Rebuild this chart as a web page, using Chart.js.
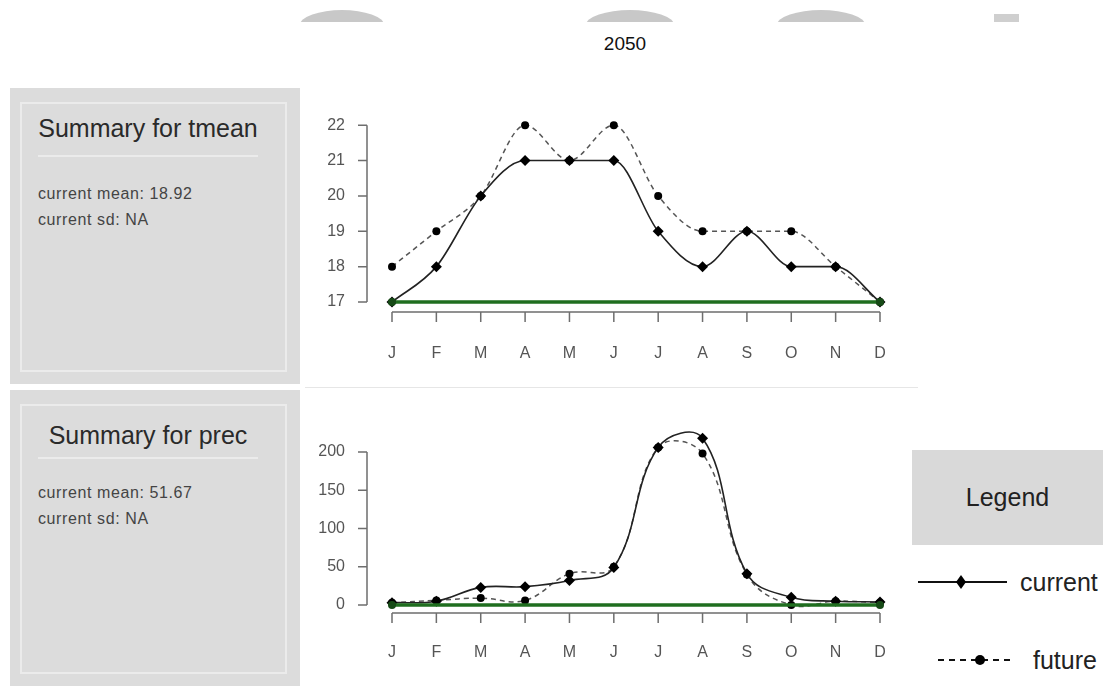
<!DOCTYPE html>
<html>
<head>
<meta charset="utf-8">
<script src="https://cdn.jsdelivr.net/npm/chart.js@4.4.1/dist/chart.umd.min.js"></script>
<style>
  body { margin: 0; background: #fff; font-family: "Liberation Sans", Arial, sans-serif; }
  #page { position: relative; width: 1110px; height: 686px; overflow: hidden; }
  .clip { position: absolute; top: 0; height: 22px; overflow: hidden; }
  .dome { position: absolute; top: 10px; left: 0; height: 30px; background: #c8c8c8; border-radius: 50%; }
  .year { position: absolute; left: 585px; width: 80px; top: 33px; text-align: center; font-size: 19px; color: #111; }
  .panel { position: absolute; left: 10px; width: 290px; background: #dcdcdc; }
  .inner { position: absolute; left: 10px; right: 13px; top: 14px; bottom: 12px; border: 2px solid #ebebeb; }
  .ptitle { position: absolute; left: 28px; width: 220px; text-align: center; font-size: 25px; color: #2a2a2a; }
  .uline { position: absolute; left: 28px; width: 220px; height: 2px; background: #ebebeb; }
  .ptext { position: absolute; left: 28px; font-size: 16px; letter-spacing: 0.6px; color: #444; line-height: 26px; }
  canvas { position: absolute; }
  .sep { position: absolute; left: 305px; width: 613px; top: 387px; height: 1px; background: #e6e6e6; }
  .lbox { position: absolute; left: 912px; top: 450px; width: 191px; height: 95px; background: #d9d9d9;
          font-size: 25px; color: #222; text-align: center; line-height: 95px; }
  .ltext { position: absolute; font-size: 25px; color: #222; line-height: 30px; }
  svg { position: absolute; }
</style>
</head>
<body>
<div id="page">
  <div class="clip" style="left:300px;width:84px"><div class="dome" style="width:84px"></div></div>
  <div class="clip" style="left:586px;width:88px"><div class="dome" style="width:88px"></div></div>
  <div class="clip" style="left:777px;width:88px"><div class="dome" style="width:88px"></div></div>
  <div style="position:absolute;left:994px;top:14px;width:25px;height:8px;background:#cfcfcf"></div>
  <div class="year">2050</div>

  <div class="panel" style="top:88px;height:296px">
    <div class="inner"></div>
    <div class="ptitle" style="top:26px">Summary for tmean</div>
    <div class="uline" style="top:67px"></div>
    <div class="ptext" style="top:93px">current mean: 18.92<br>current sd: NA</div>
  </div>
  <div class="panel" style="top:390px;height:296px">
    <div class="inner"></div>
    <div class="ptitle" style="top:31px">Summary for prec</div>
    <div class="uline" style="top:67px"></div>
    <div class="ptext" style="top:90px">current mean: 51.67<br>current sd: NA</div>
  </div>

  <canvas id="tmean_chart" width="600" height="285" style="left:305px;top:95px"></canvas>
  <div class="sep"></div>
  <canvas id="prec_chart" width="600" height="285" style="left:305px;top:395px"></canvas>

  <div class="lbox">Legend</div>
  <svg style="left:915px;top:570px" width="95" height="24">
    <line x1="3" y1="12" x2="92" y2="12" stroke="#111" stroke-width="2"/>
    <polygon points="46,5 51,12 46,19 41,12" fill="#000"/>
  </svg>
  <div class="ltext" style="left:1020px;top:567px">current</div>
  <svg style="left:935px;top:648px" width="82" height="24">
    <line x1="3" y1="12" x2="78" y2="12" stroke="#111" stroke-width="2" stroke-dasharray="6,5"/>
    <circle cx="45" cy="12" r="5" fill="#000"/>
  </svg>
  <div class="ltext" style="left:1033px;top:645px">future</div>
</div>

<script>
  var months = ["J", "F", "M", "A", "M", "J", "J", "A", "S", "O", "N", "D"];

  var tmeanTicks = [17, 18, 19, 20, 21, 22];
  var tmeanCurrent = [17, 18, 20, 21, 21, 21, 19, 18, 19, 18, 18, 17];
  var tmeanFuture = [18, 19, 20, 22, 21, 22, 20, 19, 19, 19, 18, 17];
  var tmeanBase = 17;

  var precTicks = [0, 50, 100, 150, 200];
  var precCurrent = [3, 5, 23, 24, 32, 49, 206, 218, 41, 10, 5, 4];
  var precFuture = [3, 6, 9, 6, 41, 50, 206, 198, 40, 0, 5, 3];
  var precBase = 0;

  // R style axes: detached y axis line and x axis line below the plot
  var rAxes = {
      id: 'rAxes',
      beforeDatasetsDraw: function(chart, args, opts) {
          var ctx = chart.ctx, xs = chart.scales.x, ys = chart.scales.y, area = chart.chartArea;
          var ax = area.left - 25, ay = area.bottom + opts.gap;
          var yt = ys.ticks;
          ctx.save();
          ctx.strokeStyle = '#6e6e6e';
          ctx.lineWidth = 1.5;
          ctx.beginPath();
          ctx.moveTo(ax, ys.getPixelForValue(yt[yt.length - 1].value));
          ctx.lineTo(ax, ys.getPixelForValue(yt[0].value));
          yt.forEach(function(t) {
              var p = ys.getPixelForValue(t.value);
              ctx.moveTo(ax, p);
              ctx.lineTo(ax - 9, p);
          });
          ctx.moveTo(xs.getPixelForTick(0), ay);
          ctx.lineTo(xs.getPixelForTick(xs.ticks.length - 1), ay);
          xs.ticks.forEach(function(t, i) {
              var p = xs.getPixelForTick(i);
              ctx.moveTo(p, ay);
              ctx.lineTo(p, ay + 10);
          });
          ctx.stroke();
          ctx.restore();
      }
  };

  function makeChart(id, current, future, base, ticks, opts) {
      return new Chart(document.getElementById(id), {
          type: 'line',
          data: {
              labels: months,
              datasets: [{
                  data: [{x: months[0], y: base}, {x: months[months.length - 1], y: base}],
                  borderColor: '#1f6e1f',
                  borderWidth: 3.5,
                  pointRadius: 4,
                  pointBackgroundColor: '#164a16',
                  pointBorderWidth: 0,
                  clip: false
              }, {
                  data: current,
                  borderColor: '#222',
                  borderWidth: 1.6,
                  pointStyle: 'rectRot',
                  pointRadius: 5.5,
                  pointBackgroundColor: '#000',
                  pointBorderWidth: 0,
                  cubicInterpolationMode: opts.mode,
                  tension: 0.4,
                  capBezierPoints: false,
                  clip: false
              }, {
                  data: future,
                  borderColor: '#555',
                  borderWidth: 1.5,
                  borderDash: [5, 4],
                  pointStyle: 'circle',
                  pointRadius: 4,
                  pointBackgroundColor: '#000',
                  pointBorderWidth: 0,
                  cubicInterpolationMode: opts.mode,
                  tension: 0.4,
                  capBezierPoints: false,
                  clip: false
              }]
          },
          options: {
              responsive: false,
              animation: false,
              layout: { autoPadding: false, padding: { top: opts.top, right: 25, left: 0, bottom: 0 } },
              plugins: {
                  legend: { display: false },
                  tooltip: { enabled: false },
                  rAxes: { gap: opts.gap }
              },
              scales: {
                  x: {
                      offset: false,
                      grid: { display: false, drawTicks: false },
                      border: { display: false },
                      ticks: { padding: opts.xpad, color: '#555', font: { size: 16, family: 'Liberation Sans' } },
                      afterFit: function(s) {
                          s.height = opts.xh;
                          s.paddingLeft = 0; s.paddingRight = 0;
                      }
                  },
                  y: {
                      min: ticks[0],
                      max: opts.ymax,
                      afterBuildTicks: function(s) { s.ticks = ticks.map(function(v) { return {value: v}; }); },
                      grid: { display: false, drawTicks: false },
                      border: { display: false },
                      ticks: { padding: 47, color: '#555', font: { size: 16, family: 'Liberation Sans' } },
                      afterFit: function(s) {
                          s.width = 87;
                          s.paddingTop = 0; s.paddingBottom = 0;
                      }
                  }
              }
          },
          plugins: [rAxes]
      });
  }

  var tmeanChart = makeChart('tmean_chart', tmeanCurrent, tmeanFuture, tmeanBase, tmeanTicks,
      { mode: 'monotone', ymax: 22.4, top: 16, gap: 10, xpad: 42, xh: 78 });
  var precChart = makeChart('prec_chart', precCurrent, precFuture, precBase, precTicks,
      { mode: 'default', ymax: 240, top: 26.4, gap: 8, xpad: 38, xh: 75 });
</script>
</body>
</html>
